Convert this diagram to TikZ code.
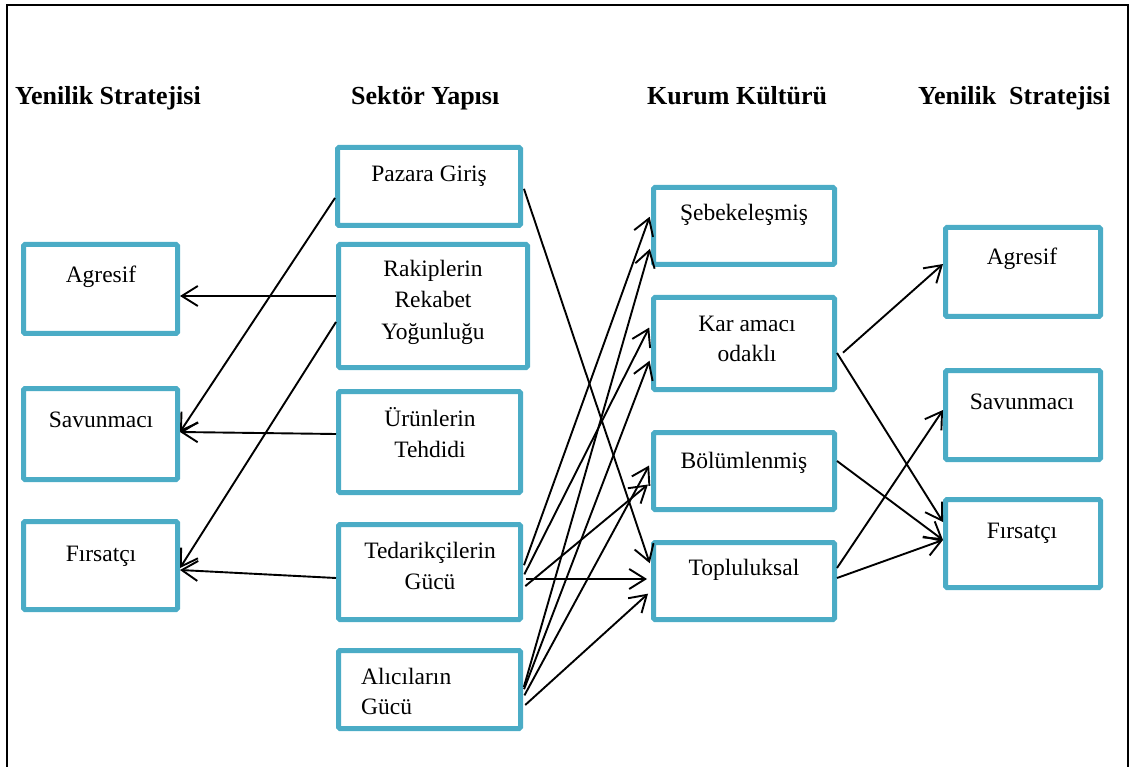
\documentclass[tikz,border=0pt]{standalone}
\usepackage{fontspec}
\setmainfont{Liberation Serif}
\usetikzlibrary{arrows.meta,calc}

\definecolor{boxteal}{RGB}{75,172,198}

\tikzset{
  box/.style={draw=boxteal, line width=5pt, rounded corners=1.5pt, inner sep=0pt, fill=white},
  txt/.style={anchor=base, inner sep=0pt, font=\fontsize{23.5}{28}\selectfont},
  head/.style={anchor=base west, inner sep=0pt, font=\fontsize{26}{30}\selectfont\bfseries},
  link/.style={line width=1.9pt, -{Straight Barb[length=16pt,width=20pt,line width=1.9pt]}},
}

% box: name, left, top, right, bottom (outer edges)
\newcommand\boxat[5]{%
  \node[box, minimum width={#4-#2-5pt}, minimum height={#5-#3-5pt}]
    (#1) at ({(#2+#4)/2},{(#3+#5)/2}) {};}

\begin{document}
\begin{tikzpicture}[x=1pt,y=-1pt]
\useasboundingbox (0,0) rectangle (1130,767);

% outer frame
\draw[line width=2.2pt] (7,767) -- (7,5) -- (1128,5) -- (1128,767);

% column headings
\node[head] (h1) at (15,105) {Yenilik Stratejisi};
\node[head] (h2) at (351,105) {Sektör Yapısı};
\node[head] (h3) at (647,105) {Kurum Kültürü};
\node[head] (h4) at (918,105) {Yenilik\ \ Stratejisi};

% left column: innovation strategy
\boxat{agL}{21}{242}{180}{336}
\boxat{savL}{21}{386}{180}{482}
\boxat{firL}{21}{519}{180}{612}
\node[txt] (agL-t) at (101,283) {Agresif};
\node[txt] (savL-t) at (101,427) {Savunmacı};
\node[txt] (firL-t) at (101,561) {Fırsatçı};

% industry structure
\boxat{paz}{335}{145}{523}{228}
\boxat{rak}{336}{242}{530}{370}
\boxat{urn}{336}{389}{523}{495}
\boxat{ted}{336}{522}{523}{622}
\boxat{ali}{336}{648}{523}{731}
\node[txt] (paz-t) at (429,182) {Pazara Giriş};
\node[txt] (rak-t1) at (433,277) {Rakiplerin};
\node[txt] (rak-t2) at (433,308) {Rekabet};
\node[txt] (rak-t3) at (433,340) {Yoğunluğu};
\node[txt] (urn-t1) at (430,426) {Ürünlerin};
\node[txt] (urn-t2) at (430,457) {Tehdidi};
\node[txt] (ted-t1) at (430,558) {Tedarikçilerin};
\node[txt] (ted-t2) at (430,589) {Gücü};
\node[txt, anchor=base west] (ali-t1) at (361,684) {Alıcıların};
\node[txt, anchor=base west] (ali-t2) at (361,714) {Gücü};

% organisational culture
\boxat{seb}{651}{185}{837}{267}
\boxat{kar}{651}{295}{837}{392}
\boxat{bol}{651}{430}{837}{512}
\boxat{top}{651}{540}{837}{622}
\node[txt] (seb-t) at (744,221) {Şebekeleşmiş};
\node[txt] (kar-t1) at (747,331) {Kar amacı};
\node[txt] (kar-t2) at (747,362) {odaklı};
\node[txt] (bol-t) at (744,468) {Bölümlenmiş};
\node[txt] (top-t) at (744,575) {Topluluksal};

% right column: innovation strategy
\boxat{agR}{943}{225}{1103}{319}
\boxat{savR}{943}{368}{1103}{462}
\boxat{firR}{943}{497}{1103}{590}
\node[txt] (agR-t) at (1022,265) {Agresif};
\node[txt] (savR-t) at (1022,409) {Savunmacı};
\node[txt] (firR-t) at (1022,538) {Fırsatçı};

% industry structure -> strategy (left)
\draw[link] ($(rak.west)+(0,-10)$) -- ($(agL.east)+(0,7)$);
\draw[link] ($(urn.west)+(0,-8)$) -- ($(savL.east)+(0,-2)$);
\draw[link] ($(ted.west)+(0,6)$) -- ($(firL.east)+(0,4.5)$);
\draw[link] ($(paz.west)+(0,11.5)$) -- ($(savL.east)+(0,-2)$);
\draw[link] ($(rak.west)+(0,16)$) -- ($(firL.east)+(0,2.5)$);

% industry structure -> culture
\begin{scope}[shorten >=4pt, shorten <=3pt]
\draw[link] ($(paz.east)+(0,-0.5)$) -- ($(top.west)+(0,-14)$);
\draw[link] ($(ted.east)+(0,-4)$) -- ($(seb.west)+(0,-13)$);
\draw[link] ($(ted.east)+(0,5)$) -- ($(kar.west)+(0,-19.5)$);
\draw[link] ($(ted.east)+(0,7)$) -- ($(top.west)+(0,-2)$);
\draw[link] ($(ted.east)+(0,16)$) -- ($(bol.west)+(0,11)$);
\draw[link] ($(ali.east)+(0,0.5)$) -- ($(seb.west)+(0,19)$);
\draw[link] ($(ali.east)+(0,2.5)$) -- ($(kar.west)+(0,13.5)$);
\draw[link] ($(ali.east)+(0,8.5)$) -- ($(bol.west)+(0,-9)$);
\draw[link] ($(ali.east)+(0,17.5)$) -- ($(top.west)+(0,10)$);
\end{scope}

% culture -> strategy (right)
\draw[link, shorten <=8pt] ($(kar.east)+(0,14.5)$) -- ($(agR.west)+(0,-8)$);
\draw[link] ($(kar.east)+(0,9.5)$) -- ($(firR.west)+(0,-21.5)$);
\draw[link] ($(bol.east)+(0,-10)$) -- ($(firR.west)+(0,-3.5)$);
\draw[link] ($(top.east)+(0,-13)$) -- ($(savR.west)+(0,-5)$);
\draw[link] ($(top.east)+(0,-3)$) -- ($(firR.west)+(0,-3.5)$);
\end{tikzpicture}
\end{document}
